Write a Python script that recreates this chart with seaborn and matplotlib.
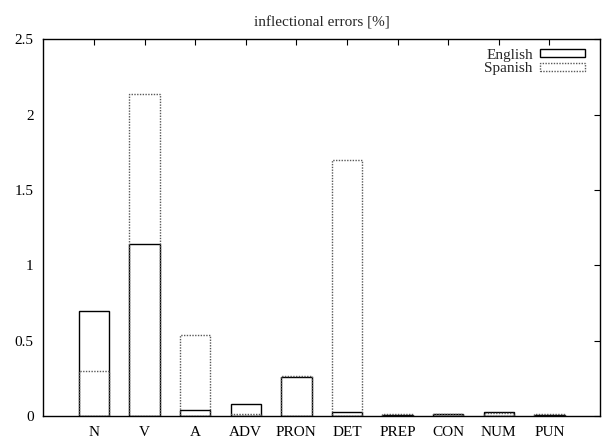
import matplotlib
matplotlib.use("Agg")
import matplotlib.pyplot as plt
import seaborn as sns
import pandas as pd

# data
categories = ["N", "V", "A", "ADV", "PRON", "DET", "PREP", "CON", "NUM", "PUN"]
english = [0.70, 1.14, 0.043, 0.08, 0.26, 0.025, 0.005, 0.015, 0.025, 0.005]
spanish = [0.30, 2.14, 0.54, 0.013, 0.265, 1.70, 0.013, 0.015, 0.02, 0.01]
y_ticks = [0, 0.5, 1, 1.5, 2, 2.5]

df = pd.DataFrame({"cat": categories, "English": english, "Spanish": spanish})

sns.set_theme(style="white")
plt.rcParams["font.family"] = ["Liberation Serif", "DejaVu Serif"]
plt.rcParams["font.size"] = 11

fig, ax = plt.subplots(figsize=(6.05, 4.41), dpi=100)
fig.subplots_adjust(left=0.0716, right=0.9917, top=0.9109, bottom=0.0567)

sns.barplot(data=df, x="cat", y="English", order=categories, ax=ax,
            width=0.6, fill=False, edgecolor="black", linewidth=1.0,
            errorbar=None, label="English")
sns.barplot(data=df, x="cat", y="Spanish", order=categories, ax=ax,
            width=0.6, fill=False, edgecolor="0.35", linewidth=1.0,
            linestyle=(0, (1, 1)), errorbar=None, label="Spanish")

ax.set_xlim(-1, len(categories))
ax.set_ylim(0, 2.5)
ax.set_yticks(y_ticks)
ax.set_yticklabels(["0", "0.5", "1", "1.5", "2", "2.5"])
ax.set_xlabel("")
ax.set_ylabel("")
ax.set_title("inflectional errors [%]", fontsize=11, pad=9)

for s in ax.spines.values():
    s.set_visible(True)
    s.set_color("black")
    s.set_linewidth(1.0)

ax.tick_params(axis="both", direction="in", length=4.5, width=0.8, color="black",
               top=True, right=True, labelsize=11, pad=7, colors="black")
ax.tick_params(axis="y", pad=7)

leg = ax.legend(loc="upper right", bbox_to_anchor=(1.0, 1.016), frameon=False,
                markerfirst=False, handlelength=2.9, handleheight=0.4,
                handletextpad=0.5, labelspacing=0.05, borderaxespad=0.6,
                fontsize=11)

plt.savefig("out.png", dpi=100)
